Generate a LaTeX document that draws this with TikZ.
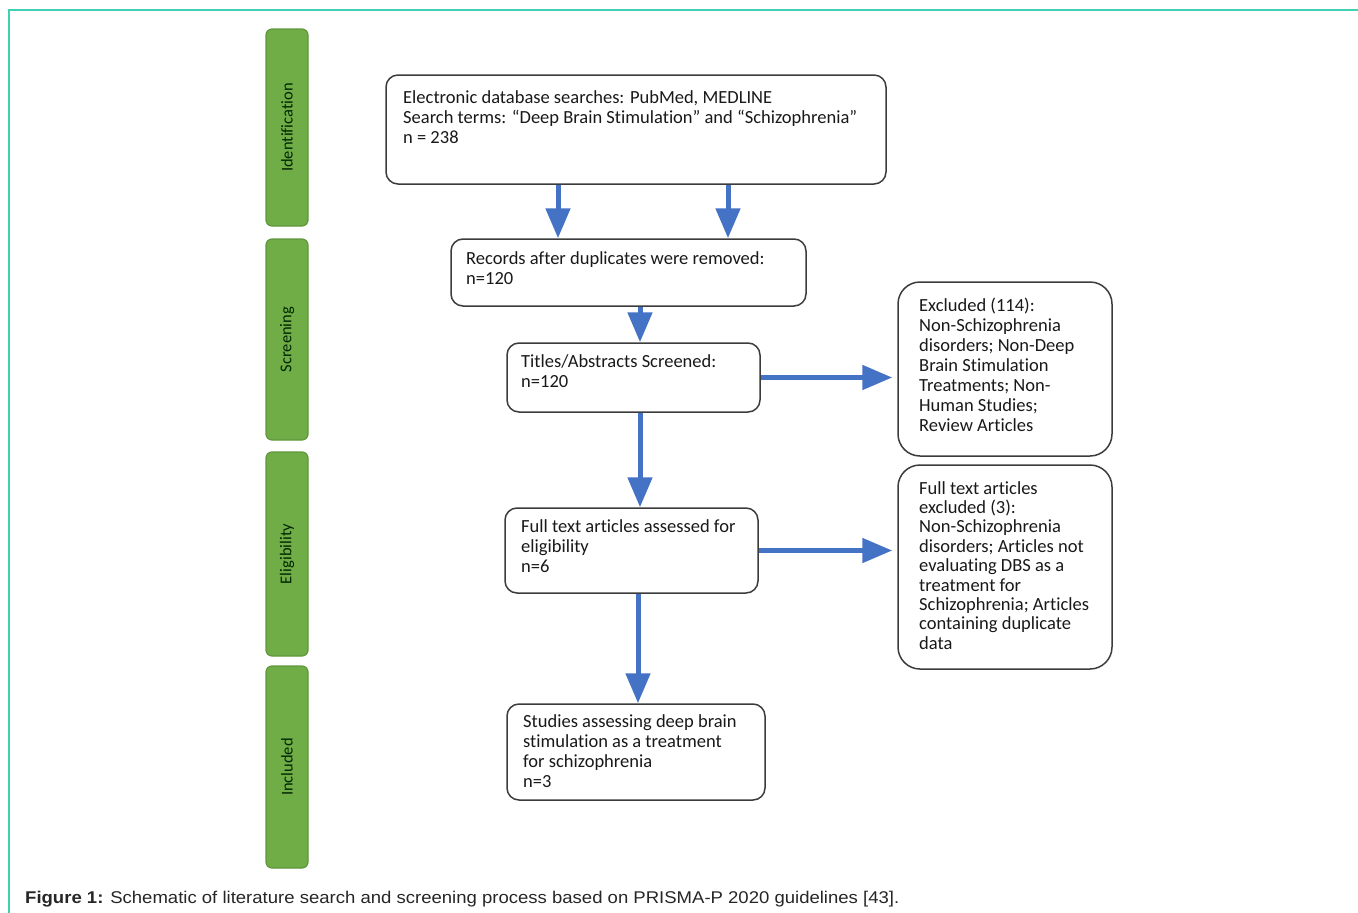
\documentclass[tikz,border=0pt]{standalone}
\usepackage{fontspec}
\setmainfont{Carlito}[RawFeature={-liga;-clig;-calt;-dlig}]
\newfontfamily\capfont{Liberation Sans}
\usetikzlibrary{arrows.meta}
\definecolor{frameteal}{RGB}{64,208,180}
\definecolor{barfill}{RGB}{112,173,71}
\definecolor{barline}{RGB}{96,150,60}
\definecolor{arrblue}{RGB}{68,114,196}
\definecolor{boxline}{RGB}{60,60,60}
\tikzset{
  box/.style={draw=boxline, line width=1.5pt, rounded corners=12pt, fill=white},
  exbox/.style={draw=boxline, line width=1.5pt, rounded corners=22pt, fill=white},
  txt/.style={anchor=north west, inner sep=0pt, align=left, font=\fontsize{18.5}{20}\selectfont, text=black!90},
  bar/.style={draw=barline, line width=1.2pt, fill=barfill, rounded corners=6pt, minimum width=42pt, font=\fontsize{16.5}{18}\selectfont, text=black!85!green, inner sep=0pt},
  arr/.style={draw=arrblue, line width=5pt, -{Triangle[length=30pt,width=24pt]}}
}
\begin{document}
\begin{tikzpicture}[x=1pt,y=-1pt]
\useasboundingbox (0,0) rectangle (1358,913);
% frame
\draw[frameteal, line width=2pt] (9,913) -- (9,10) -- (1358,10);
% stage bars
\node[bar, minimum height=197pt] (g1) at (287,127.5) {\rotatebox{90}{Identification}};
\node[bar, minimum height=201pt] (g2) at (287,339.5) {\rotatebox{90}{Screening}};
\node[bar, minimum height=204pt] (g3) at (287,554) {\rotatebox{90}{Eligibility}};
\node[bar, minimum height=202pt] (g4) at (287,767) {\rotatebox{90}{Included}};
% boxes
\node[box, minimum width=500pt, minimum height=109pt] (b1) at (636,129.5) {};
\node[box, minimum width=355pt, minimum height=67pt] (b2) at (628.5,272.5) {};
\node[box, minimum width=253pt, minimum height=69pt] (b3) at (633.5,377.5) {};
\node[box, minimum width=253pt, minimum height=85pt] (b4) at (631.5,550.5) {};
\node[box, minimum width=258pt, minimum height=96pt] (b5) at (636,752) {};
\node[exbox, minimum width=214pt, minimum height=174pt] (e1) at (1005,369) {};
\node[exbox, minimum width=214pt, minimum height=204pt] (e2) at (1005,567) {};
% texts
\node[txt] (t1) at (403,90) {Electronic database searches: PubMed, MEDLINE\\Search terms: “Deep Brain Stimulation” and “Schizophrenia”\\n = 238};
\node[txt] (t2) at (466,251) {Records after duplicates were removed:\\n=120};
\node[txt] (t3) at (521,354) {Titles/Abstracts Screened:\\n=120};
\node[txt] (t4) at (521,519) {Full text articles assessed for\\eligibility\\n=6};
\node[txt] (t5) at (523,714) {Studies assessing deep brain\\stimulation as a treatment\\for schizophrenia\\n=3};
\node[txt] (t6) at (919,298) {Excluded (114):\\Non-Schizophrenia\\disorders; Non-Deep\\Brain Stimulation\\Treatments; Non-\\Human Studies;\\Review Articles};
\node[txt, font=\fontsize{18.5}{19.4}\selectfont] (t7) at (919,481) {Full text articles\\excluded (3):\\Non-Schizophrenia\\disorders; Articles not\\evaluating DBS as a\\treatment for\\Schizophrenia; Articles\\containing duplicate\\data};
% arrows
\coordinate (xa) at (558,0);
\coordinate (xb) at (728,0);
\coordinate (xc) at (640,0);
\coordinate (xd) at (638,0);
\draw[arr] (xa |- b1.south) -- (xa |- b2.north);
\draw[arr] (xb |- b1.south) -- (xb |- b2.north);
\draw[arr] (xc |- b2.south) -- (xc |- b3.north);
\draw[arr] (xc |- b3.south) -- (xc |- b4.north);
\draw[arr] (xd |- b4.south) -- (xd |- b5.north);
\draw[arr, shorten >=5pt] (b3.east) -- (b3.east -| e1.west);
\draw[arr, shorten >=5pt] (b4.east) -- (b4.east -| e2.west);
% caption
\node[anchor=base west, inner sep=0pt, font=\capfont\fontsize{17}{19}\selectfont, text=black!85] (cap) at (25,903) {\scalebox{1.09}[1]{\textbf{Figure 1:} Schematic of literature search and screening process based on PRISMA-P 2020 guidelines [43].}};
\end{tikzpicture}
\end{document}
